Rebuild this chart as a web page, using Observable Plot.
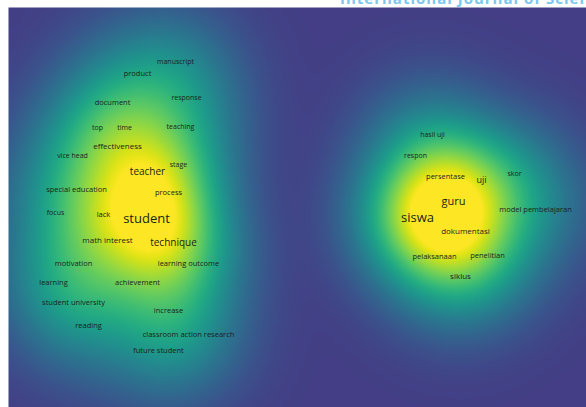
<!DOCTYPE html>
<html><head><meta charset="utf-8">
<script src="https://cdn.jsdelivr.net/npm/d3@7"></script>
<script src="https://cdn.jsdelivr.net/npm/@observablehq/plot@0.6"></script>
<style>
body{margin:0;background:#fff;width:586px;height:407px;overflow:hidden;position:relative;font-family:"Open Sans",sans-serif}
#top{position:absolute;left:340px;top:0;width:246px;height:7px;overflow:hidden}
#top span{position:absolute;left:0;top:-12px;font:bold 15px "Open Sans",sans-serif;color:#7cc8ee;white-space:nowrap;letter-spacing:1px}
#chart{position:absolute;left:8px;top:7px}
</style></head><body>
<div id="top"><span>International Journal of Scien</span></div>
<div id="chart"></div>
<script>
const terms = ["manuscript","product","response","document","top","time","teaching","effectiveness","vice head","teacher","stage","special education","process","focus","lack","student","math interest","technique","motivation","learning outcome","learning","achievement","student university","increase","reading","classroom action research","future student",
"hasil uji","respon","persentase","uji","skor","guru","siswa","model pembelajaran","dokumentasi","pelaksanaan","penelitian","siklus"];
const xs = [167,129,178,104,89,116,172,109,64,139,170,68,160,47,95,138,99,165,65,180,45,129,65,160,80,180,150,
424,407,437,473,506,445,409,527,457,426,479,452];
const ys = [54,66,90,95,120,120,119,139,148,164,157,182,185,205,207,211,233,235,256,256,275,275,295,303,318,327,343,
127,148,169,173,166,194,210,202,224,249,248,269];
const sizes = [7,7.5,7,7.5,7,7,7,8,7,10,7,7.5,7.5,7,7.5,13,8,10,7.5,7.5,7.5,7.5,7.5,7.5,7.5,7.5,7.5,
7,7,7.5,9,7,11,13,7.5,8,7.5,7.5,8];
const weights = [1,1,1,1,1,1,1,1.2,1,2.5,1,1.2,1.5,1,1.2,4,1.2,2.5,1.2,1.5,1,1.2,1,1.2,1,1.2,1,
1,1,1.5,1.5,1,3,5,1.2,2,1.5,1.5,1.5];

const data = terms.map((t,i)=>({term:t,x:xs[i],y:ys[i],size:sizes[i],w:weights[i]}));
const sigma = 40;
function dens(x,y){let s=0;for(const d of data){const dx=x-d.x,dy=y-d.y;s+=d.w*Math.exp(-(dx*dx+dy*dy)/(2*sigma*sigma));}return s;}
let dmax=0;for(const d of data){dmax=Math.max(dmax,dens(d.x,d.y));}

const plot = Plot.plot({
  width:578,height:400,margin:0,
  x:{domain:[0,578],axis:null},
  y:{domain:[0,400],reverse:true,axis:null},
  color:{type:"pow",exponent:0.75,domain:[0,dmax*0.82],clamp:true,interpolate:t=>d3.interpolateViridis(0.18+0.82*t)},
  marks:[
    Plot.raster({x1:0,x2:578,y1:0,y2:400,fill:(x,y)=>dens(x,y),pixelSize:2,imageRendering:"auto"}),
    Plot.text(data,{x:"x",y:"y",text:"term",fontSize:"size",fill:"#1a1f1a",fontFamily:"Open Sans"})
  ]
});
document.getElementById("chart").appendChild(plot);
</script>
</body></html>
